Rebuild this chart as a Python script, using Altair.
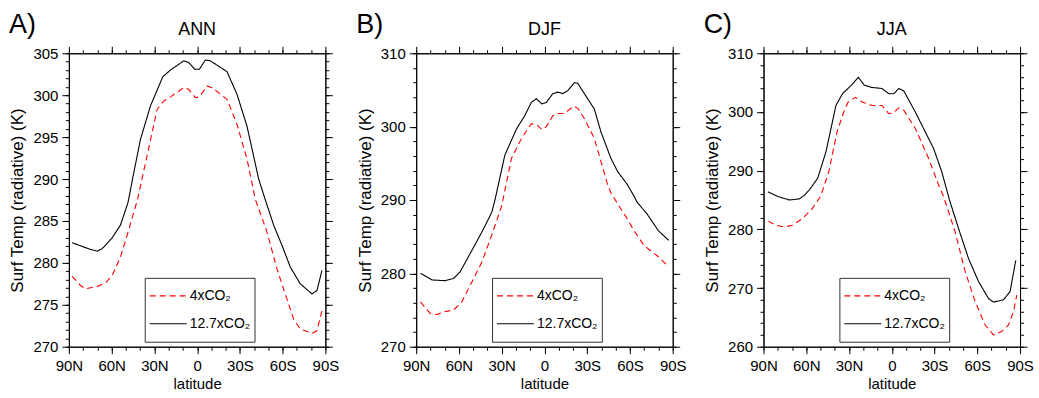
import altair as alt
import pandas as pd

FONT = "Liberation Sans"
SERIES = ["4xCO₂", "12.7xCO₂"]

# ---------------- Panel A: ANN ----------------
ann_lat_4x = [87.7, 81.8, 78.3, 70.0, 64.3, 59.6, 53.8, 49.1, 44.0, 41.9, 35.1, 28.1, 23.4, 18.7, 9.4, 5.9, 1.2,
              -1.6, -7.0, -10.5, -21.0, -28.0, -35.0, -40.8, -49.0, -56.0, -63.0, -67.7, -72.4, -80.6, -84.1, -87.6]
ann_t_4x = [278.4, 277.3, 276.9, 277.2, 277.6, 278.5, 280.7, 283.3, 286.3, 287.5, 292.8, 298.3, 299.3, 299.8, 300.9,
            300.7, 299.7, 299.8, 301.1, 300.9, 299.5, 296.5, 292.4, 287.6, 283.7, 279.3, 275.7, 273.3, 272.1, 271.6,
            271.9, 274.3]
ann_lat_12 = [87.7, 74.8, 70.0, 66.6, 60.0, 53.8, 48.5, 44.4, 39.8, 32.8, 24.1, 18.7, 9.4, 5.9, 1.7, -1.6, -5.8,
              -9.3, -21.0, -28.0, -35.0, -43.2, -47.5, -53.7, -60.0, -65.4, -72.4, -80.6, -84.1, -87.6]
ann_t_12 = [282.4, 281.6, 281.4, 281.7, 282.9, 284.5, 287.2, 290.8, 294.7, 298.7, 302.2, 303.0, 304.1, 303.9, 303.1,
            303.1, 304.2, 304.1, 302.8, 300.1, 296.3, 290.0, 287.7, 284.5, 281.9, 279.5, 277.5, 276.3, 276.7, 279.1]

# ---------------- Panel B: DJF ----------------
djf_lat_4x = [87.0, 80.0, 75.4, 69.6, 63.8, 58.0, 51.0, 44.0, 37.0, 30.0, 23.1, 16.1, 9.2, 5.7, 1.7, -1.3, -5.9,
              -9.4, -14.0, -20.6, -23.4, -28.0, -35.0, -39.6, -44.3, -46.6, -51.3, -58.2, -62.9, -69.8, -79.1, -87.2]
djf_t_4x = [276.1, 274.5, 274.4, 274.8, 275.0, 276.1, 278.8, 281.5, 285.2, 289.2, 295.7, 298.4, 300.4, 300.3, 299.6,
            300.0, 301.5, 301.8, 301.8, 302.8, 302.5, 301.1, 298.4, 295.3, 292.1, 291.0, 289.5, 287.4, 285.8, 283.8,
            282.4, 280.9]
djf_lat_12 = [87.0, 78.9, 69.6, 63.8, 59.2, 51.0, 44.0, 37.0, 34.5, 27.8, 19.6, 13.8, 9.2, 5.7, 1.7, -1.3, -5.9,
              -9.4, -12.9, -16.4, -21.0, -23.4, -28.0, -35.0, -39.6, -46.6, -51.3, -58.2, -62.9, -65.0, -72.0, -80.0,
              -87.2]
djf_t_12 = [280.0, 279.1, 279.0, 279.3, 280.2, 283.1, 285.6, 288.3, 290.2, 296.1, 299.7, 301.5, 303.3, 303.8, 303.1,
            303.3, 304.5, 304.7, 304.5, 304.9, 306.0, 305.9, 304.5, 302.4, 299.3, 295.7, 293.9, 292.1, 290.5, 289.7,
            288.1, 285.8, 284.5]

# ---------------- Panel C: JJA ----------------
jja_lat_4x = [86.6, 81.5, 75.7, 69.8, 62.9, 55.9, 50.0, 44.2, 38.4, 33.7, 30.6, 25.5, 20.8, 13.8, 6.8, 2.1, -1.4,
              -4.9, -8.4, -16.5, -25.8, -32.8, -36.5, -44.5, -51.5, -58.5, -65.5, -71.4, -77.2, -81.9, -85.4, -87.7]
jja_t_4x = [281.4, 280.7, 280.4, 280.7, 281.8, 283.5, 285.6, 289.8, 296.6, 300.0, 301.7, 302.5, 301.7, 301.1, 301.1,
            299.7, 299.9, 300.7, 300.3, 297.2, 292.1, 287.6, 285.5, 279.5, 272.8, 267.7, 263.7, 262.0, 262.6, 263.7,
            266.0, 268.8]
jja_lat_12 = [87.0, 80.0, 71.8, 64.8, 61.4, 57.9, 52.0, 46.2, 39.2, 34.6, 28.6, 23.5, 19.4, 14.7, 6.9, 2.1, -1.4,
              -4.9, -8.4, -16.5, -23.5, -29.3, -35.1, -40.5, -46.9, -53.9, -60.9, -67.9, -71.4, -78.4, -83.0, -87.0]
jja_t_12 = [286.4, 285.6, 285.0, 285.2, 285.8, 286.7, 288.7, 293.2, 301.1, 303.1, 304.5, 305.9, 304.6, 304.2, 304.0,
            303.1, 303.1, 304.0, 303.6, 300.0, 296.6, 293.8, 289.8, 285.0, 280.1, 275.0, 271.1, 268.2, 267.6, 268.0,
            269.4, 274.7]

X_MAJOR = [90, 60, 30, 0, -30, -60, -90]
X_MINOR = list(range(-90, 91, 10))
LAT_LABEL = "datum.value > 0 ? datum.value + 'N' : (datum.value < 0 ? (-datum.value) + 'S' : '0')"

W, H = 257, 294


def make_df(lat4, t4, lat12, t12):
    a = pd.DataFrame({"lat": lat4, "temp": t4, "series": SERIES[0]})
    b = pd.DataFrame({"lat": lat12, "temp": t12, "series": SERIES[1]})
    return pd.concat([a, b], ignore_index=True)


def tick_axis(orient, values, size):
    return alt.Axis(orient=orient, values=values, labels=False, title=None, grid=False,
                    tickSize=size, tickColor="black", tickWidth=1,
                    domain=True, domainColor="black", domainWidth=1)


def panel(df, letter, name, ydom, ymajor, yminor):
    xs = alt.Scale(domain=[-90, 90], reverse=True, nice=False, zero=False)
    ys = alt.Scale(domain=ydom, nice=False, zero=False)
    leg = alt.Legend(title=None, orient="none", legendX=76, legendY=225, direction="vertical",
                     symbolType="stroke", symbolSize=1369, symbolStrokeWidth=1.2, clipHeight=28,
                     labelFont=FONT, labelFontSize=14, labelColor="black", labelOffset=2,
                     strokeColor="#333333", fillColor="white", padding=4, rowPadding=-1)
    main = alt.Chart(df).mark_line(strokeWidth=1.1).encode(
        x=alt.X("lat:Q", scale=xs, axis=alt.Axis(
            orient="bottom", values=X_MAJOR, labelExpr=LAT_LABEL, grid=False,
            tickSize=7, tickColor="black", domainColor="black",
            labelFont=FONT, labelFontSize=15, labelColor="black", labelPadding=5, labelFlush=False,
            title="latitude", titleFont=FONT, titleFontSize=15, titleFontWeight="normal",
            titleColor="black", titlePadding=3)),
        y=alt.Y("temp:Q", scale=ys, axis=alt.Axis(
            orient="left", values=ymajor, grid=False,
            tickSize=7, tickColor="black", domainColor="black",
            labelFont=FONT, labelFontSize=15, labelColor="black", labelPadding=4,
            title="Surf Temp (radiative) (K)", titleFont=FONT, titleFontSize=17,
            titleFontWeight="normal", titleColor="black", titlePadding=6)),
        color=alt.Color("series:N", scale=alt.Scale(domain=SERIES, range=["#ff0000", "black"]), legend=leg),
        strokeDash=alt.StrokeDash("series:N", scale=alt.Scale(domain=SERIES, range=[[6, 4], [1, 0]]),
                                  legend=leg),
    )

    def ghost(xaxis, yaxis):
        return alt.Chart(df).mark_line(opacity=0).encode(
            x=alt.X("lat:Q", scale=xs, axis=xaxis),
            y=alt.Y("temp:Q", scale=ys, axis=yaxis),
        )

    g1 = ghost(tick_axis("bottom", X_MINOR, 3.5), tick_axis("left", yminor, 3.5))
    g2 = ghost(tick_axis("top", X_MAJOR, 7), tick_axis("right", ymajor, 7))
    g3 = ghost(tick_axis("top", X_MINOR, 3.5), tick_axis("right", yminor, 3.5))

    lab = alt.Chart(pd.DataFrame({"t": [letter]})).mark_text(
        font=FONT, fontSize=27, align="left", baseline="alphabetic", color="black"
    ).encode(x=alt.value(-60), y=alt.value(-20), text="t:N")
    ttl = alt.Chart(pd.DataFrame({"t": [name]})).mark_text(
        font=FONT, fontSize=18, align="center", baseline="alphabetic", color="black"
    ).encode(x=alt.value(W / 2), y=alt.value(-18), text="t:N")

    return alt.layer(main, g1, g2, g3, lab, ttl).resolve_axis(
        x="independent", y="independent").properties(width=W, height=H)


pA = panel(make_df(ann_lat_4x, ann_t_4x, ann_lat_12, ann_t_12), "A)", "ANN",
           [270, 305], list(range(270, 306, 5)), list(range(270, 306, 1)))
pB = panel(make_df(djf_lat_4x, djf_t_4x, djf_lat_12, djf_t_12), "B)", "DJF",
           [270, 310], list(range(270, 311, 10)), list(range(270, 311, 2)))
pC = panel(make_df(jja_lat_4x, jja_t_4x, jja_lat_12, jja_t_12), "C)", "JJA",
           [260, 310], list(range(260, 311, 10)), list(range(260, 311, 2)))

chart = alt.hconcat(pA, pB, pC, spacing=91, bounds="flush").resolve_scale(
    x="independent", y="independent", color="independent", strokeDash="independent"
).resolve_legend(color="independent", strokeDash="independent").configure_view(
    stroke=None
).properties(
    padding={"left": 8, "top": 11, "right": 5, "bottom": 5}, background="white"
)

chart.save("out.html", embed_options={"renderer": "svg", "actions": False})
